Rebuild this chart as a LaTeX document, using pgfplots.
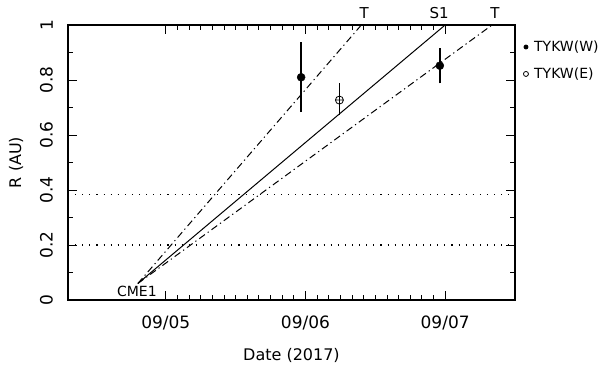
\documentclass[border=0pt]{standalone}
\usepackage{fontspec}
\setmainfont{DejaVu Sans}
\usepackage{pgfplots}
\pgfplotsset{compat=1.18}
\pgfplotsset{common/.style={scale only axis, width=447pt, height=275pt,
  xmin=4.3, xmax=7.5, ymin=0, ymax=1, clip=false}}
\begin{document}
\fontsize{16}{19}\selectfont
\begin{tikzpicture}
% frame layer with ticks (drawn first)
\begin{axis}[common,
  xtick={5,6,7}, xticklabels={09/05,09/06,09/07},
  minor x tick num=11,
  ytick={0,0.2,0.4,0.6,0.8,1}, yticklabels={0,0.2,0.4,0.6,0.8,1},
  minor y tick num=1,
  major tick length=9pt, minor tick length=5pt,
  every tick/.style={black, line width=0.9pt},
  axis line style={line width=1.4pt},
  xticklabel style={font=\fontsize{17}{20}\selectfont, inner sep=0pt, anchor=north},
  xticklabel shift=16pt,
  yticklabel style={font=\fontsize{17}{20}\selectfont, inner sep=0pt, rotate=90, anchor=south},
  yticklabel shift=15pt,
  xlabel={Date (2017)}, ylabel={R (AU)},
  every axis x label/.style={at={(axis description cs:0.5,0)}, anchor=base, yshift=-61pt, font=\fontsize{16}{19}\selectfont},
  every axis y label/.style={at={(axis description cs:-0.1051,0.5)}, anchor=base, rotate=90, font=\fontsize{16}{19}\selectfont},
]
\coordinate (sw) at (rel axis cs:0,0);
\addplot[black, line width=1pt] coordinates {(4.80,0.06) (7.00,1.0)};
\end{axis}
% data layer
\begin{axis}[common, hide axis]
% error bars (low, high)
\addplot[black, line width=1.8pt] coordinates {(5.969,0.683) (5.969,0.937)};
\addplot[black, line width=1.8pt] coordinates {(6.962,0.788) (6.962,0.916)};
\addplot[black, line width=1.8pt] coordinates {(6.243,0.673) (6.243,0.788)};
% data points
\addplot[black, only marks, mark=*, mark size=4pt]
  coordinates {(5.969,0.81) (6.962,0.852)};
\addplot[black, only marks, mark=oplus, mark size=4pt, mark options={fill=white, line width=0.8pt}]
  coordinates {(6.243,0.727)};
% legend entries plotted outside the box
\addplot[black, only marks, mark=*, mark size=2.2pt] coordinates {(7.5785,0.92)};
\addplot[black, only marks, mark=o, mark size=2.5pt, line width=0.8pt] coordinates {(7.5785,0.822)};
% propagation lines (dash-dot)
\addplot[black, line width=1pt, dash pattern=on 7pt off 3.5pt on 1.2pt off 3.5pt] coordinates {(4.80,0.06) (6.40,1.0)};
\addplot[black, line width=1pt, dash pattern=on 7pt off 3.5pt on 1.2pt off 3.5pt] coordinates {(4.80,0.06) (7.336,1.0)};
% dotted reference levels
\addplot[black, line width=1.1pt, dash pattern=on 1.1pt off 6pt] coordinates {(4.3,0.385) (7.5,0.385)};
\addplot[black, line width=1.1pt, dash pattern=on 1.1pt off 6pt] coordinates {(4.3,0.2) (7.5,0.2)};
% text
\node[font=\fontsize{14}{17}\selectfont, anchor=west, inner sep=0pt] at (axis cs:7.5785,0.92) [xshift=8pt] {TYKW(W)};
\node[font=\fontsize{14}{17}\selectfont, anchor=west, inner sep=0pt] at (axis cs:7.5785,0.822) [xshift=8pt] {TYKW(E)};
\node[font=\fontsize{15}{18}\selectfont, anchor=base, yshift=6.7pt] at (axis cs:6.421,1) {T};
\node[font=\fontsize{15}{18}\selectfont, anchor=base, yshift=6.7pt] at (axis cs:6.957,1) {S1};
\node[font=\fontsize{15}{18}\selectfont, anchor=base, yshift=6.7pt] at (axis cs:7.357,1) {T};
\node[font=\fontsize{14}{17}\selectfont, anchor=base] at (axis cs:4.793,0.011) {CME1};
\end{axis}
\pgfresetboundingbox
\path[use as bounding box] (sw) ++(-68pt,-69pt) rectangle ++(600pt,369pt);
\end{tikzpicture}
\end{document}
